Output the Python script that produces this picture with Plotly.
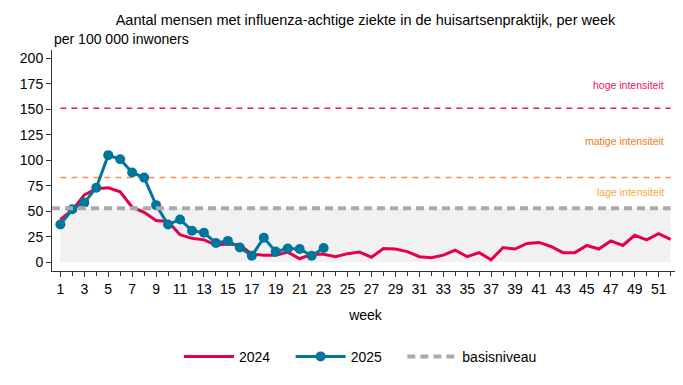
import plotly.graph_objects as go

weeks = list(range(1, 53))
values_2024 = [42, 51, 66, 72, 73, 69, 54, 49, 41, 40, 27, 23.5, 22, 17, 18,
               17, 8, 7, 7, 10, 3.5, 8, 8, 5.5, 8.5, 10, 5, 13.5, 13, 10.5,
               5.5, 4.5, 7, 12, 5.5, 9.5, 2.5, 14.5, 13, 18.5, 19.5, 15.5, 9.5, 9.5,
               16.5, 13, 21, 16.5, 26.5, 22, 28, 22.5]
weeks_2025 = list(range(1, 24))
values_2025 = [37, 52, 58.5, 73, 105, 101, 88, 83, 56, 37, 42, 31, 29, 19, 21,
               14.5, 6.5, 24, 10.5, 13.5, 13, 6.5, 14]
basisniveau = 53
thresholds = [("hoge intensiteit", 151, 174, "#e8175d", "#e8175d"),
              ("matige intensiteit", 83, 119, "#f7904a", "#f47b20"),
              ("lage intensiteit", None, 69, None, "#f7a540")]

RED = "#e6004c"
BLUE = "#00769c"
GREY = "#aaaaaa"
FONT = "Liberation Sans, Arial, sans-serif"
PAD = "\u00a0\u00a0\u00a0\u00a0"

fig = go.Figure()

# shaded region below baseline
fig.add_trace(go.Scatter(x=weeks, y=[basisniveau] * len(weeks), mode="lines",
                         line=dict(width=0), fill="tozeroy", fillcolor="#f1f1f1",
                         showlegend=False, hoverinfo="skip"))

# intensity threshold lines
for name, val, ypos, lcol, tcol in thresholds:
    if val is not None:
        fig.add_trace(go.Scatter(x=[weeks[0], weeks[-1]], y=[val, val], mode="lines",
                                 line=dict(color=lcol, width=1.5, dash="6px,5px"),
                                 showlegend=False, hoverinfo="skip"))
    fig.add_annotation(x=weeks[-1], y=ypos, xref="x", yref="y", text=name,
                       showarrow=False, xanchor="right", xshift=-5,
                       font=dict(family=FONT, size=10.5, color=tcol))

fig.add_trace(go.Scatter(x=weeks, y=values_2024, mode="lines", name="2024" + PAD,
                         line=dict(color=RED, width=3)))
fig.add_trace(go.Scatter(x=weeks_2025, y=values_2025, mode="lines+markers", name="2025" + PAD,
                         line=dict(color=BLUE, width=3),
                         marker=dict(color=BLUE, size=10)))
fig.add_trace(go.Scatter(x=[0.3] + weeks, y=[basisniveau] * (len(weeks) + 1), mode="lines",
                         name="basisniveau",
                         line=dict(color=GREY, width=4, dash="8px,5px")))

fig.update_layout(
    width=683, height=385,
    margin=dict(l=44, r=12, t=42, b=122, autoexpand=False),
    paper_bgcolor="white", plot_bgcolor="white",
    font=dict(family=FONT, size=14, color="#000000"),
    title=dict(text="Aantal mensen met influenza-achtige ziekte in de huisartsenpraktijk, per week",
               x=0.5, xref="paper", xanchor="center", y=0.969, yref="container", yanchor="middle",
               font=dict(family=FONT, size=14.5, color="#000000")),
    showlegend=True,
    legend=dict(orientation="h", x=0.516, xanchor="center", xref="container",
                y=0.094, yref="container", yanchor="middle", font=dict(family=FONT, size=14),
                itemwidth=50, tracegroupgap=0),
)
fig.add_annotation(text="per 100 000 inwoners", xref="paper", yref="paper",
                   x=0, y=1.0, xanchor="left", yanchor="bottom", yshift=1, showarrow=False,
                   font=dict(family=FONT, size=14, color="#000000"))

fig.update_xaxes(range=[0.3, 52.7], tickmode="array", tickangle=0, automargin=False,
                 tickvals=list(range(1, 53, 2)), ticktext=[str(w) for w in range(1, 53, 2)],
                 ticks="outside", ticklen=5, tickcolor="#333333",
                 minor=dict(tickmode="array", tickvals=list(range(2, 53, 2)), ticks="outside",
                            ticklen=4, tickcolor="#333333"),
                 showline=True, linecolor="#333333", linewidth=1, showgrid=False, zeroline=False,
                 title=dict(text="week", standoff=14, font=dict(family=FONT, size=14)),
                 tickfont=dict(family=FONT, size=14))
fig.update_yaxes(range=[-8.5, 208], tickmode="array", tickvals=list(range(0, 201, 25)),
                 automargin=False,
                 ticks="outside", ticklen=5, tickcolor="#333333",
                 showline=True, linecolor="#333333", linewidth=1, showgrid=False, zeroline=False,
                 tickfont=dict(family=FONT, size=14))

fig.write_html("out.html")
